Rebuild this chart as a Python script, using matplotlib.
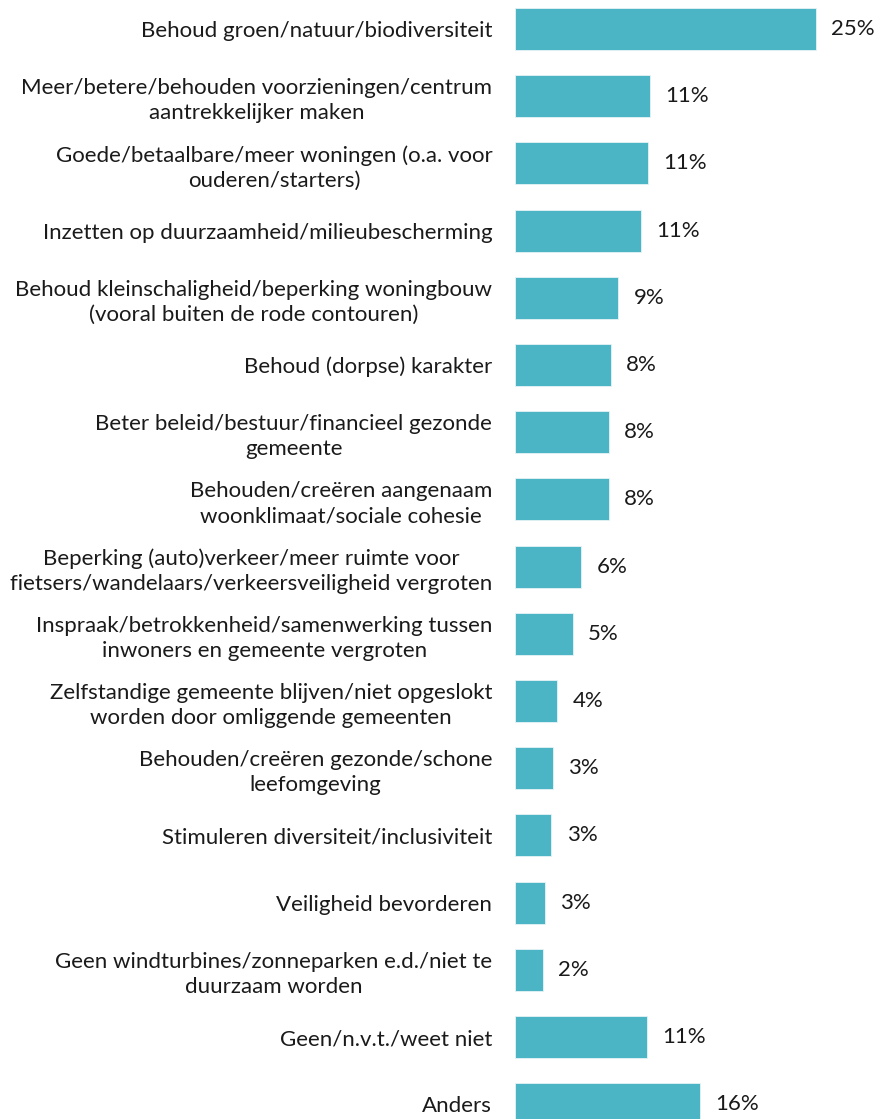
import matplotlib
matplotlib.use("Agg")
import matplotlib.pyplot as plt
import numpy as np

plt.rcParams['font.family'] = ['Lato', 'DejaVu Sans']

categories = [
    "Behoud groen/natuur/biodiversiteit",
    "Meer/betere/behouden voorzieningen/centrum\naantrekkelijker maken",
    "Goede/betaalbare/meer woningen (o.a. voor\nouderen/starters)",
    "Inzetten op duurzaamheid/milieubescherming",
    "Behoud kleinschaligheid/beperking woningbouw\n(vooral buiten de rode contouren)",
    "Behoud (dorpse) karakter",
    "Beter beleid/bestuur/financieel gezonde\ngemeente",
    "Behouden/creëren aangenaam\nwoonklimaat/sociale cohesie",
    "Beperking (auto)verkeer/meer ruimte voor\nfietsers/wandelaars/verkeersveiligheid vergroten",
    "Inspraak/betrokkenheid/samenwerking tussen\ninwoners en gemeente vergroten",
    "Zelfstandige gemeente blijven/niet opgeslokt\nworden door omliggende gemeenten",
    "Behouden/creëren gezonde/schone\nleefomgeving",
    "Stimuleren diversiteit/inclusiviteit",
    "Veiligheid bevorderen",
    "Geen windturbines/zonneparken e.d./niet te\nduurzaam worden",
    "Geen/n.v.t./weet niet",
    "Anders",
]
values = [25.3, 11.4, 11.2, 10.6, 8.7, 8.1, 7.9, 7.9, 5.6, 4.9, 3.6, 3.2, 3.1, 2.55, 2.4, 11.1, 15.55]

bar_color = "#4bb5c5"

fig = plt.figure(figsize=(8.75, 11.19), dpi=100)
ax = fig.add_axes([0.588, 0.0, 0.412, 1.0])

y = np.arange(len(categories))
ax.barh(y, values, height=0.625, color=bar_color, edgecolor="#e6f4f6", linewidth=0.6)

for yi, v in zip(y, values):
    ax.annotate(f"{v:.0f}%", (v, yi), xytext=(11, 0), textcoords="offset points",
                va="center", ha="left", fontsize=16, color="#1a1a1a")

ax.set_xlim(0, 30.24)
ax.set_ylim(16.22, -0.4315)
ax.set_yticks(y)
ax.set_yticklabels(categories, fontsize=16, color="#1a1a1a",
                   multialignment="center", linespacing=1.3)
ax.tick_params(axis="y", length=0, pad=16)
ax.set_xticks([])
for s in ax.spines.values():
    s.set_visible(False)

fig.savefig("out.png", dpi=100)
